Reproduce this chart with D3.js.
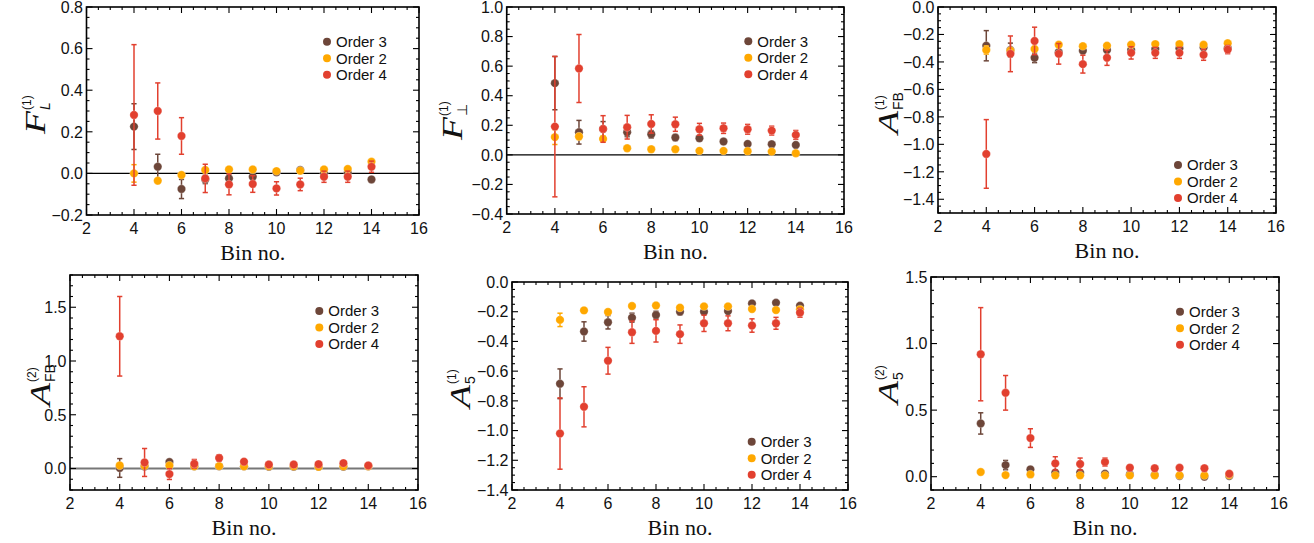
<!DOCTYPE html>
<html>
<head>
<meta charset="utf-8">
<script src="https://cdn.jsdelivr.net/npm/d3@7"></script>
<style>
  html, body { margin: 0; padding: 0; background: #fff; }
  svg { display: block; }
</style>
</head>
<body>
<svg id="chart" width="1314" height="543"></svg>
<script>
// bins and legend
const bins = [4, 5, 6, 7, 8, 9, 10, 11, 12, 13, 14];
const seriesNames = ['Order 3', 'Order 2', 'Order 4'];
const seriesColors = ['#6d4639', '#ffa800', '#e2402f'];
const xTicks = [2, 4, 6, 8, 10, 12, 14, 16];

// F_L^(1)
const flTicks = [-0.2, 0, 0.2, 0.4, 0.6, 0.8];
const flO3 = [0.225, 0.032, -0.075, -0.029, -0.024, -0.016, 0.005, 0.016, 0.0, 0.003, -0.029];
const flO3Err = [0.11, 0.06, 0.046, 0.02, 0.015, 0.015, 0.01, 0.01, 0.01, 0.01, 0.008];
const flO2 = [0.0, -0.035, -0.008, 0.016, 0.019, 0.019, 0.011, 0.013, 0.019, 0.021, 0.056];
const flO2Err = [0.042, 0.01, 0.008, 0.006, 0.005, 0.005, 0.005, 0.005, 0.005, 0.005, 0.005];
const flO4 = [0.281, 0.3, 0.18, -0.024, -0.053, -0.051, -0.072, -0.053, -0.016, -0.016, 0.032];
const flO4Err = [0.338, 0.135, 0.088, 0.068, 0.05, 0.04, 0.032, 0.03, 0.027, 0.027, 0.027];

// F_perp^(1)
const fpTicks = [-0.4, -0.2, 0, 0.2, 0.4, 0.6, 0.8, 1.0];
const fpO3 = [0.485, 0.153, 0.175, 0.153, 0.139, 0.117, 0.112, 0.09, 0.074, 0.072, 0.067];
const fpO3Err = [0.18, 0.08, 0.05, 0.03, 0.025, 0.02, 0.015, 0.015, 0.012, 0.01, 0.01];
const fpO2 = [0.12, 0.124, 0.108, 0.045, 0.038, 0.038, 0.027, 0.027, 0.025, 0.022, 0.011];
const fpO2Err = [0.05, 0.02, 0.02, 0.006, 0.005, 0.005, 0.004, 0.004, 0.004, 0.004, 0.004];
const fpO4 = [0.191, 0.584, 0.175, 0.187, 0.209, 0.207, 0.173, 0.18, 0.173, 0.164, 0.135];
const fpO4Err = [0.475, 0.23, 0.09, 0.08, 0.062, 0.048, 0.04, 0.035, 0.033, 0.03, 0.03];

// A_FB^(1)
const afb1Ticks = [-1.4, -1.2, -1.0, -0.8, -0.6, -0.4, -0.2, 0];
const afb1O3 = [-0.282, -0.313, -0.37, -0.33, -0.318, -0.313, -0.313, -0.306, -0.3, -0.294, -0.3];
const afb1O3Err = [0.11, 0.05, 0.035, 0.02, 0.015, 0.015, 0.012, 0.012, 0.01, 0.01, 0.01];
const afb1O2 = [-0.313, -0.318, -0.306, -0.275, -0.285, -0.282, -0.275, -0.27, -0.27, -0.275, -0.264];
const afb1O2Err = [0.03, 0.01, 0.01, 0.006, 0.006, 0.005, 0.005, 0.005, 0.005, 0.005, 0.005];
const afb1O4 = [-1.07, -0.341, -0.247, -0.341, -0.416, -0.37, -0.334, -0.334, -0.334, -0.348, -0.31];
const afb1O4Err = [0.25, 0.13, 0.1, 0.075, 0.065, 0.055, 0.045, 0.04, 0.04, 0.04, 0.03];

// A_FB^(2)
const afb2Ticks = [0, 0.5, 1.0, 1.5];
const afb2O3 = [0.005, 0.019, 0.06, 0.02, 0.02, 0.02, 0.015, 0.015, 0.015, 0.015, 0.02];
const afb2O3Err = [0.087, 0.01, 0.01, 0.008, 0.008, 0.006, 0.005, 0.005, 0.005, 0.005, 0.005];
const afb2O2 = [0.028, 0.025, 0.028, 0.02, 0.022, 0.02, 0.02, 0.02, 0.015, 0.02, 0.02];
const afb2O2Err = [0.02, 0.005, 0.005, 0.004, 0.004, 0.004, 0.004, 0.004, 0.004, 0.004, 0.004];
const afb2O4 = [1.23, 0.056, -0.052, 0.044, 0.097, 0.063, 0.037, 0.037, 0.04, 0.05, 0.028];
const afb2O4Err = [0.37, 0.13, 0.05, 0.04, 0.03, 0.02, 0.012, 0.012, 0.012, 0.012, 0.01];

// A_5^(1)
const a51Ticks = [-1.4, -1.2, -1.0, -0.8, -0.6, -0.4, -0.2, 0];
const a51O3 = [-0.685, -0.333, -0.271, -0.24, -0.222, -0.2, -0.2, -0.196, -0.144, -0.14, -0.16];
const a51O3Err = [0.1, 0.065, 0.045, 0.03, 0.025, 0.02, 0.015, 0.015, 0.012, 0.012, 0.01];
const a51O2 = [-0.255, -0.191, -0.202, -0.162, -0.158, -0.173, -0.164, -0.164, -0.182, -0.189, -0.184];
const a51O2Err = [0.045, 0.015, 0.015, 0.01, 0.008, 0.008, 0.007, 0.007, 0.007, 0.007, 0.007];
const a51O4 = [-1.02, -0.84, -0.53, -0.338, -0.329, -0.351, -0.278, -0.278, -0.293, -0.278, -0.207];
const a51O4Err = [0.24, 0.135, 0.09, 0.075, 0.075, 0.062, 0.055, 0.05, 0.045, 0.04, 0.03];

// A_5^(2)
const a52Ticks = [0, 0.5, 1.0, 1.5];
const a52O3 = [0.4, 0.087, 0.055, 0.03, 0.03, 0.022, 0.017, 0.012, 0.005, 0.0, 0.005];
const a52O3Err = [0.08, 0.035, 0.02, 0.015, 0.015, 0.01, 0.008, 0.006, 0.005, 0.005, 0.005];
const a52O2 = [0.035, 0.012, 0.017, 0.01, 0.01, 0.01, 0.01, 0.01, 0.01, 0.01, 0.012];
const a52O2Err = [0.005, 0.004, 0.004, 0.004, 0.004, 0.004, 0.004, 0.004, 0.004, 0.004, 0.004];
const a52O4 = [0.92, 0.63, 0.29, 0.1, 0.095, 0.11, 0.067, 0.063, 0.067, 0.063, 0.022];
const a52O4Err = [0.35, 0.13, 0.07, 0.05, 0.045, 0.03, 0.02, 0.02, 0.015, 0.015, 0.01];

const panels = [
  { box: [86.5, 419, 7, 215], domain: [-0.2, 0.8], ticks: flTicks, minor: 0.05, zero: '#000',
    series: [[flO3, flO3Err], [flO2, flO2Err], [flO4, flO4Err]],
    legend: [327, 41.7], label: { main: 'F', sub: 'L', subItalic: true, sup: '(1)', x: 45, y: 134 } },
  { box: [506.7, 844, 7, 214], domain: [-0.4, 1.0], ticks: fpTicks, minor: 0.05, zero: '#000',
    series: [[fpO3, fpO3Err], [fpO2, fpO2Err], [fpO4, fpO4Err]],
    legend: [748.3, 41.3], label: { main: 'F', sub: '\u22a5', sup: '(1)', x: 462, y: 140 } },
  { box: [938, 1276, 7, 213], domain: [-1.5, 0], ticks: afb1Ticks, minor: 0.05, zero: null,
    series: [[afb1O3, afb1O3Err], [afb1O2, afb1O2Err], [afb1O4, afb1O4Err]],
    legend: [1178, 165], label: { main: 'A', sub: 'FB', sup: '(1)', x: 898, y: 134 } },
  { box: [70, 418, 275, 490], domain: [-0.2, 1.8], ticks: afb2Ticks, minor: 0.1, zero: '#777',
    series: [[afb2O3, afb2O3Err], [afb2O2, afb2O2Err], [afb2O4, afb2O4Err]],
    legend: [319.3, 311], label: { main: 'A', sub: 'FB', sup: '(2)', x: 50, y: 406 } },
  { box: [512, 848, 282, 490], domain: [-1.4, 0], ticks: a51Ticks, minor: 0.05, zero: null,
    series: [[a51O3, a51O3Err], [a51O2, a51O2Err], [a51O4, a51O4Err]],
    legend: [751.7, 441.7], label: { main: 'A', sub: '5', sup: '(1)', x: 470, y: 408 } },
  { box: [931, 1279, 277, 490], domain: [-0.1, 1.5], ticks: a52Ticks, minor: 0.1, zero: null,
    series: [[a52O3, a52O3Err], [a52O2, a52O2Err], [a52O4, a52O4Err]],
    legend: [1180, 311.7], label: { main: 'A', sub: '5', sup: '(2)', x: 898, y: 404 } },
];

const svg = d3.select('#chart');
const fmt = d3.format('.1f');
const SANS = '"Liberation Sans", Arial, sans-serif';
const SERIF = '"Liberation Serif", "Times New Roman", serif';

function drawPanel(p) {
  const [x0, x1, y0, y1] = p.box;
  const x = d3.scaleLinear().domain([2, 16]).range([x0, x1]);
  const y = d3.scaleLinear().domain(p.domain).range([y1, y0]);
  const g = svg.append('g');

  if (p.zero) {
    g.append('line')
      .attr('x1', x0).attr('x2', x1)
      .attr('y1', y(0)).attr('y2', y(0))
      .attr('stroke', p.zero).attr('stroke-width', p.zero === '#000' ? 1.2 : 1.8);
  }

  // ticks, all four sides, pointing in
  const tickG = g.append('g').attr('stroke', '#000').attr('stroke-width', 1.1);
  const xMinor = d3.range(4, 33).map((k) => k * 0.5).filter((v) => !xTicks.includes(v));
  const yMinor = d3.range(Math.ceil(p.domain[0] / p.minor - 1e-6), Math.floor(p.domain[1] / p.minor + 1e-6) + 1)
    .map((k) => +(k * p.minor).toFixed(4))
    .filter((v) => !p.ticks.some((t) => Math.abs(t - v) < 1e-6));
  const xt = xTicks.map((v) => [v, 6]).concat(xMinor.map((v) => [v, 3]));
  const yt = p.ticks.map((v) => [v, 6]).concat(yMinor.map((v) => [v, 3]));
  xt.forEach(([v, len]) => {
    tickG.append('line').attr('x1', x(v)).attr('x2', x(v)).attr('y1', y1).attr('y2', y1 - len);
    tickG.append('line').attr('x1', x(v)).attr('x2', x(v)).attr('y1', y0).attr('y2', y0 + len);
  });
  yt.forEach(([v, len]) => {
    tickG.append('line').attr('y1', y(v)).attr('y2', y(v)).attr('x1', x0).attr('x2', x0 + len);
    tickG.append('line').attr('y1', y(v)).attr('y2', y(v)).attr('x1', x1).attr('x2', x1 - len);
  });

  // tick labels
  g.append('g').selectAll('text').data(xTicks).join('text')
    .attr('x', (d) => x(d)).attr('y', y1 + 18.5)
    .attr('text-anchor', 'middle')
    .attr('font-family', SANS).attr('font-size', 16).attr('fill', '#111')
    .text((d) => d);
  g.append('g').selectAll('text').data(p.ticks).join('text')
    .attr('x', x0 - 3.5).attr('y', (d) => y(d)).attr('dy', '0.36em')
    .attr('text-anchor', 'end')
    .attr('font-family', SANS).attr('font-size', 16).attr('fill', '#111')
    .text((d) => fmt(d));

  // data
  p.series.forEach(([vals, errs], si) => {
    const color = seriesColors[si];
    const sg = g.append('g');
    const pts = bins.map((b, i) => ({ b, v: vals[i], e: errs[i] }));
    const eb = sg.append('g').attr('stroke', color).attr('stroke-width', 1.5).attr('fill', 'none');
    pts.forEach((d) => {
      const cx = x(d.b);
      const yt1 = y(d.v + d.e), yb1 = y(d.v - d.e);
      eb.append('line').attr('x1', cx).attr('x2', cx).attr('y1', yt1).attr('y2', yb1);
      eb.append('line').attr('x1', cx - 2.6).attr('x2', cx + 2.6).attr('y1', yt1).attr('y2', yt1);
      eb.append('line').attr('x1', cx - 2.6).attr('x2', cx + 2.6).attr('y1', yb1).attr('y2', yb1);
    });
    sg.selectAll('circle').data(pts).join('circle')
      .attr('cx', (d) => x(d.b)).attr('cy', (d) => y(d.v))
      .attr('r', 4.2).attr('fill', color)
      .attr('stroke', '#fff').attr('stroke-opacity', 0.35).attr('stroke-width', 0.8);
  });

  // frame
  g.append('rect')
    .attr('x', x0).attr('y', y0).attr('width', x1 - x0).attr('height', y1 - y0)
    .attr('fill', 'none').attr('stroke', '#000').attr('stroke-width', 1.6);

  // legend
  const [lx, ly] = p.legend;
  seriesNames.forEach((name, i) => {
    g.append('circle').attr('cx', lx).attr('cy', ly + i * 16.5).attr('r', 4).attr('fill', seriesColors[i]);
    g.append('text').attr('x', lx + 9).attr('y', ly + i * 16.5 + 5.3)
      .attr('font-family', SANS).attr('font-size', 15).attr('fill', '#111')
      .text(name);
  });

  // x title
  g.append('text')
    .attr('x', (x0 + x1) / 2).attr('y', y1 + 45)
    .attr('text-anchor', 'middle')
    .attr('font-family', SERIF).attr('font-size', 22).attr('fill', '#111')
    .text('Bin no.');

  // y title, rotated, with stacked sub/superscript
  const lab = p.label;
  const lg = g.append('g').attr('transform', `translate(${lab.x},${lab.y}) rotate(-90)`);
  const sx = 1.3;
  const main = lg.append('text')
    .attr('transform', `scale(${sx},1)`)
    .attr('font-family', SERIF).attr('font-style', 'italic').attr('font-size', 29).attr('fill', '#111')
    .text(lab.main);
  const w = main.node().getComputedTextLength() * sx;
  lg.append('text')
    .attr('x', w + 1).attr('y', 5)
    .attr('font-family', SANS).attr('font-size', 14).attr('fill', '#111')
    .attr('font-style', lab.subItalic ? 'italic' : 'normal')
    .text(lab.sub);
  lg.append('text')
    .attr('x', w + 1).attr('y', -14)
    .attr('font-family', SANS).attr('font-size', 12).attr('fill', '#111')
    .text(lab.sup);
}

panels.forEach(drawPanel);
</script>
</body>
</html>
